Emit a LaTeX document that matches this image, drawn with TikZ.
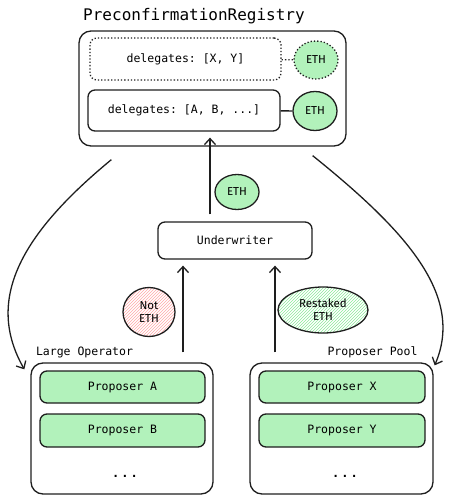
\documentclass[tikz,border=0pt]{standalone}
\usepackage{fontspec}
\setmonofont{DejaVu Sans Mono}
\newfontfamily\handfont{Fira Sans}
\usetikzlibrary{shapes.geometric, arrows.meta, patterns}
\definecolor{mint}{HTML}{B2F2BB}
\definecolor{ink}{HTML}{1E1E1E}
\definecolor{blush}{HTML}{FFA8A8}
\definecolor{sage}{HTML}{8CE99A}
\tikzset{
  box/.style={draw=ink, line width=1.3pt, rounded corners=7, inner sep=0, font=\ttfamily\fontsize{11.5}{13}\selectfont},
  coin/.style={ellipse, draw=ink, line width=1.3pt, fill=mint, inner sep=0, align=center, font=\handfont\fontsize{11.5}{13}\selectfont},
  flow/.style={draw=ink, line width=1.3pt, -{Straight Barb[length=6pt, width=11pt]}},
  caption/.style={font=\ttfamily\fontsize{11.5}{13}\selectfont, inner sep=0},
}

\begin{document}
\begin{tikzpicture}[x=1pt, y=-1pt]
%\draw [help lines, step=10] (0,0) grid (454,500);
\useasboundingbox (0,0) rectangle (454,500);

\node [caption, font=\ttfamily\fontsize{16}{18}\selectfont] (title) at (194,16) {PreconfirmationRegistry};
\node [box, rounded corners=12, minimum width=267, minimum height=115] (registry) at (212.5,88.5) {};

\node [box, dotted, minimum width=191, minimum height=42] (pending) at (185.5,59) {delegates: [X, Y]};
\node [coin, dotted, minimum width=44, minimum height=38] (pendingeth) at (316,60) {ETH};
\draw [ink, dotted, line width=1.3pt] (pending) -- (pendingeth);

\node [box, minimum width=192, minimum height=41] (active) at (184,110.5) {delegates: [A, B, ...]};
\node [coin, minimum width=44, minimum height=39] (activeeth) at (315,111) {ETH};
\draw [ink, line width=1.3pt] (active) -- (activeeth);

\node [box, minimum width=154, minimum height=37] (underwriter) at (235,240.5) {Underwriter};
\node [coin, minimum width=44, minimum height=35] (stakeeth) at (237,192) {ETH};
\draw [flow] ([xshift=-25, yshift=7]underwriter.north) -- ([xshift=-2.5, yshift=9]registry.south);

\node [coin, draw=ink, fill=none, pattern=north east lines, pattern color=blush, minimum width=52, minimum height=49] (noteth) at (149,312) {Not\\ETH};
\node [coin, draw=ink, fill=none, pattern=north east lines, pattern color=sage, minimum width=90, minimum height=46] (restaked) at (323,310) {Restaked\\ETH};

\node [caption] (oplabel) at (84.5,352) {Large Operator};
\node [box, rounded corners=12, minimum width=182, minimum height=131] (operator) at (122,428.5) {};
\node [box, fill=mint, minimum width=165, minimum height=32] (propA) at (122.5,387) {Proposer A};
\node [box, fill=mint, minimum width=165, minimum height=33] (propB) at (122.5,430.5) {Proposer B};
\node [caption, font=\ttfamily\bfseries\fontsize{12}{13}\selectfont] (opdots) at (125,476) {.\hspace{2pt}.\hspace{2pt}.};

\node [caption] (poollabel) at (372.5,352) {Proposer Pool};
\node [box, rounded corners=12, minimum width=183, minimum height=131] (pool) at (341.5,428.5) {};
\node [box, fill=mint, minimum width=166, minimum height=32] (propX) at (342,387) {Proposer X};
\node [box, fill=mint, minimum width=166, minimum height=33] (propY) at (342,430.5) {Proposer Y};
\node [caption, font=\ttfamily\bfseries\fontsize{12}{13}\selectfont] (pooldots) at (345,476) {.\hspace{2pt}.\hspace{2pt}.};

\draw [flow] ([xshift=61, yshift=10]operator.north) -- ([xshift=-52, yshift=-6]underwriter.south);
\draw [flow] ([xshift=-66.5, yshift=10]pool.north) -- ([xshift=40, yshift=-6]underwriter.south);

\draw [flow] ([xshift=33, yshift=-13]registry.south west) .. controls (20,235) and (-15,300) .. ([xshift=-6, yshift=-7]operator.north west);
\draw [flow] ([xshift=-34, yshift=-9]registry.south east) .. controls (405,230) and (465,295) .. ([xshift=1, yshift=-3]pool.north east);

\end{tikzpicture}
\end{document}
